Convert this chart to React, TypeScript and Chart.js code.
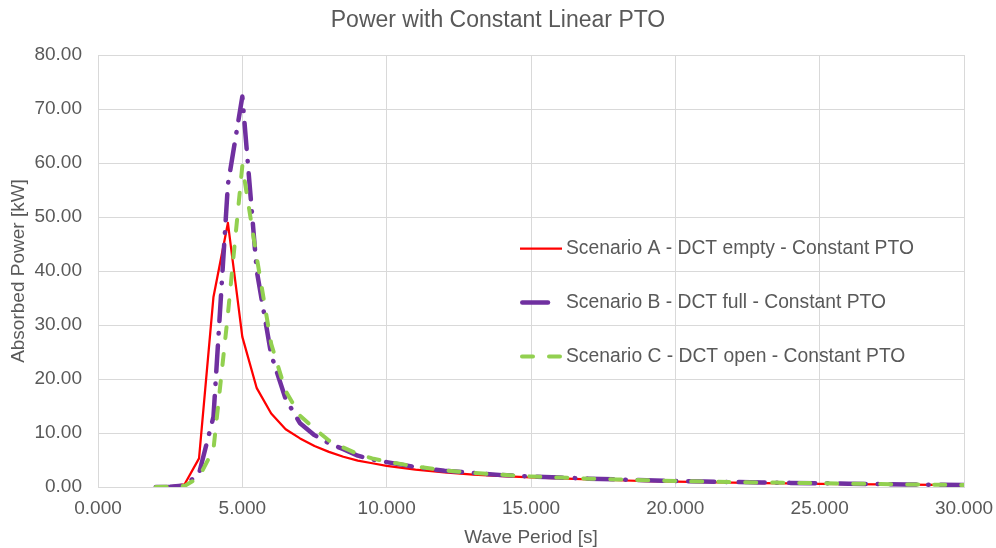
import React, { useEffect, useRef } from "react";
import { Chart, registerables } from "chart.js";

Chart.register(...registerables);

const periods = [
  2, 2.5, 3, 3.5, 4, 4.5, 5, 5.5, 6, 6.5, 7, 7.5, 8, 8.5, 9, 9.5, 10,
  11, 12, 13, 14, 15, 16, 17, 18, 19, 20, 21, 22, 23, 24, 25, 26, 27, 28, 29, 30,
];

const scenarioA = [
  0, 0.1, 0.5, 5.3, 35.2, 48.9, 27.8, 18.3, 13.6, 10.7, 9.0, 7.6, 6.5, 5.6, 4.9, 4.4, 3.9,
  3.2, 2.7, 2.3, 2.0, 1.8, 1.6, 1.4, 1.25, 1.1, 1.0, 0.9, 0.8, 0.72, 0.65, 0.58, 0.52, 0.47, 0.42, 0.38, 0.35,
];

const scenarioB = [
  0, 0.05, 0.3, 2.5, 13, 56, 72.3, 40, 24.5, 16.3, 11.8, 9.6, 8.1, 7.0, 5.8, 5.1, 4.6,
  3.7, 3.0, 2.6, 2.2, 1.95, 1.75, 1.55, 1.4, 1.25, 1.1, 1.0, 0.92, 0.84, 0.76, 0.7, 0.62, 0.55, 0.48, 0.42, 0.36,
];

const scenarioC = [
  0, 0.05, 0.2, 1.8, 7, 32, 59.5, 42.5, 26.5, 17.8, 13.2, 10.8, 8.6, 7.3, 6.1, 5.3, 4.7,
  3.8, 3.1, 2.6, 2.25, 1.95, 1.75, 1.55, 1.4, 1.25, 1.1, 1.0, 0.92, 0.84, 0.76, 0.7, 0.62, 0.55, 0.48, 0.42, 0.35,
];

const seriesLabels = [
  "Scenario A - DCT empty - Constant PTO",
  "Scenario B - DCT full - Constant PTO",
  "Scenario C - DCT open - Constant PTO",
];

const titleText = "Power with Constant Linear PTO";
const xTitle = "Wave Period [s]";
const yTitle = "Absorbed Power [kW]";

const FONT = "'Liberation Sans', Arial, sans-serif";
const TEXT = "#595959";
const GRID = "#D9D9D9";

const toPoints = (ys: number[]) => periods.map((x, i) => ({ x, y: ys[i] }));

const titlePlugin = {
  id: "centeredTitle",
  afterDraw(chart: any) {
    const ctx = chart.ctx;
    ctx.save();
    ctx.fillStyle = TEXT;
    ctx.font = `23px ${FONT}`;
    ctx.textAlign = "center";
    ctx.textBaseline = "middle";
    ctx.fillText(titleText, chart.width / 2, 21);
    ctx.restore();
  },
};

const legendPlugin = {
  id: "insideLegend",
  afterDraw(chart: any) {
    const ctx = chart.ctx;
    const rowY = [248.5, 302.5, 356.5];
    const sampleX0 = 520;
    const sampleX1 = 562;
    const textX = 566;
    chart.data.datasets.forEach((ds: any, i: number) => {
      const y = rowY[i];
      ctx.save();
      ctx.strokeStyle = ds.borderColor;
      ctx.lineWidth = ds.borderWidth;
      ctx.lineCap = ds.borderCapStyle || "butt";
      ctx.setLineDash(ds.borderDash || []);
      ctx.beginPath();
      if (i === 1) {
        ctx.moveTo(sampleX0 + 2.25, y);
        ctx.lineTo(sampleX0 + 28, y);
      } else if (i === 2) {
        ctx.moveTo(sampleX0 + 2, y);
        ctx.lineTo(sampleX1 - 2, y);
      } else {
        ctx.moveTo(sampleX0, y);
        ctx.lineTo(sampleX1, y);
      }
      ctx.stroke();
      ctx.restore();
      ctx.save();
      ctx.fillStyle = TEXT;
      ctx.font = `19.3px ${FONT}`;
      ctx.textBaseline = "middle";
      ctx.textAlign = "left";
      ctx.fillText(seriesLabels[i], textX, y);
      ctx.restore();
    });
  },
};

export default function App() {
  const ref = useRef<HTMLCanvasElement | null>(null);

  useEffect(() => {
    if (!ref.current) return;
    const chart = new Chart(ref.current, {
      type: "line",
      data: {
        datasets: [
          {
            label: seriesLabels[0],
            data: toPoints(scenarioA),
            borderColor: "#FF0000",
            backgroundColor: "#FF0000",
            borderWidth: 2.25,
            borderJoinStyle: "round",
            pointRadius: 0,
            tension: 0,
            order: 3,
          },
          {
            label: seriesLabels[1],
            data: toPoints(scenarioB),
            borderColor: "#7030A0",
            backgroundColor: "#7030A0",
            borderWidth: 4.5,
            borderDash: [26, 12, 0.5, 12],
            borderCapStyle: "round",
            borderJoinStyle: "round",
            pointRadius: 0,
            tension: 0,
            order: 2,
          },
          {
            label: seriesLabels[2],
            data: toPoints(scenarioC),
            borderColor: "#92D050",
            backgroundColor: "#92D050",
            borderWidth: 4,
            borderDash: [11, 16],
            borderCapStyle: "round",
            borderJoinStyle: "round",
            pointRadius: 0,
            tension: 0,
            order: 1,
          },
        ],
      },
      options: {
        animation: false,
        responsive: false,
        devicePixelRatio: 1,
        layout: { padding: { left: 0, right: 32, top: 55, bottom: 0 } },
        plugins: {
          legend: { display: false },
          tooltip: { enabled: false },
          title: { display: false },
        },
        scales: {
          x: {
            type: "linear",
            min: 0,
            max: 30,
            afterFit: (s: any) => {
              s.height = 61;
              s.paddingLeft = 0;
              s.paddingRight = 0;
            },
            ticks: {
              stepSize: 5,
              color: TEXT,
              font: { family: FONT, size: 19 },
              padding: 10,
              maxRotation: 0,
              callback: (v: any) => Number(v).toFixed(3),
            },
            grid: { color: GRID, lineWidth: 1, drawTicks: false },
            border: { color: GRID },
            title: {
              display: true,
              text: xTitle,
              color: TEXT,
              font: { family: FONT, size: 19 },
              padding: { top: 0, bottom: -1 },
            },
          },
          y: {
            type: "linear",
            min: 0,
            max: 80,
            afterFit: (s: any) => {
              s.width = 98;
              s.paddingTop = 0;
              s.paddingBottom = 0;
            },
            ticks: {
              stepSize: 10,
              color: TEXT,
              font: { family: FONT, size: 19 },
              padding: 16,
              callback: (v: any) => Number(v).toFixed(2),
            },
            grid: { color: GRID, lineWidth: 1, drawTicks: false },
            border: { color: GRID },
            title: {
              display: true,
              text: yTitle,
              color: TEXT,
              font: { family: FONT, size: 19 },
              padding: { top: 7, bottom: 0 },
            },
          },
        },
      },
      plugins: [titlePlugin, legendPlugin],
    });
    return () => chart.destroy();
  }, []);

  return (
    <div style={{ position: "fixed", left: 0, top: 0, width: 996, height: 548, background: "#fff" }}>
      <canvas ref={ref} width={996} height={548} style={{ display: "block" }} />
    </div>
  );
}
